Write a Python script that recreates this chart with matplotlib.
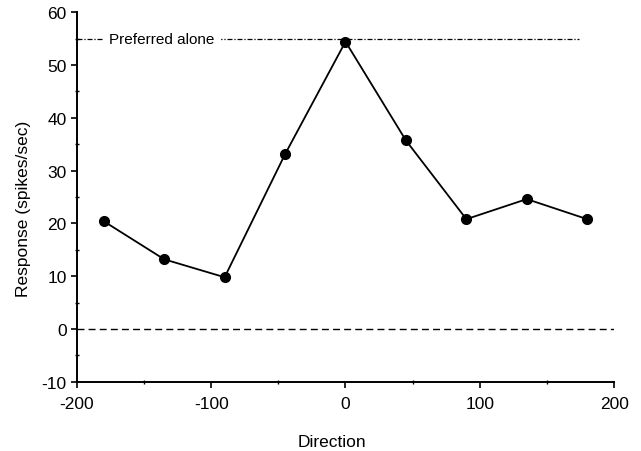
import matplotlib
matplotlib.use("Agg")
import matplotlib.pyplot as plt
from matplotlib.ticker import MultipleLocator

plt.rcParams["font.family"] = ["Liberation Sans", "DejaVu Sans"]
plt.rcParams["axes.unicode_minus"] = False

# Tuning curve: direction (deg) vs response
directions = [-180, -135, -90, -45, 0, 45, 90, 135, 180]
responses = [20.4, 13.2, 9.8, 33.1, 54.4, 35.7, 20.8, 24.6, 20.8]

preferred_alone = 55.0
pref_x = [-200, 174]
baseline = 0.0
base_x = [-200, 200]

fig = plt.figure(figsize=(6.41, 4.52), dpi=100)
ax = fig.add_axes([0.120, 0.153, 0.838, 0.818])

ax.plot(pref_x, [preferred_alone, preferred_alone], color="black", lw=0.9,
        linestyle=(0, (4, 1.5, 1, 1.5)))
ax.text(-176, preferred_alone, "Preferred alone", fontsize=11, va="center",
        ha="left", backgroundcolor="white")
ax.plot(base_x, [baseline, baseline], color="black", lw=1.0,
        linestyle=(0, (5, 3)))
ax.plot(directions, responses, color="black", lw=1.3, marker="o",
        markersize=7)

ax.set_xlim(-200, 200)
ax.set_ylim(-10, 60)
ax.xaxis.set_major_locator(MultipleLocator(100))
ax.xaxis.set_minor_locator(MultipleLocator(50))
ax.yaxis.set_major_locator(MultipleLocator(10))
ax.yaxis.set_minor_locator(MultipleLocator(5))
ax.tick_params(which="major", direction="out", length=4, width=1.2,
               labelsize=12.5)
ax.tick_params(axis="x", which="major", pad=6)
ax.tick_params(which="minor", direction="inout", length=3, width=1)

for s in ["top", "right"]:
    ax.spines[s].set_visible(False)
for s in ["left", "bottom"]:
    ax.spines[s].set_linewidth(1.4)

ax.set_xlabel("Direction", fontsize=12.5, va="top")
ax.xaxis.set_label_coords(0.475, -0.14)
ax.set_ylabel("Response (spikes/sec)", fontsize=12.5)
ax.yaxis.set_label_coords(-0.085, 0.47)

fig.savefig("out.png", dpi=100)
